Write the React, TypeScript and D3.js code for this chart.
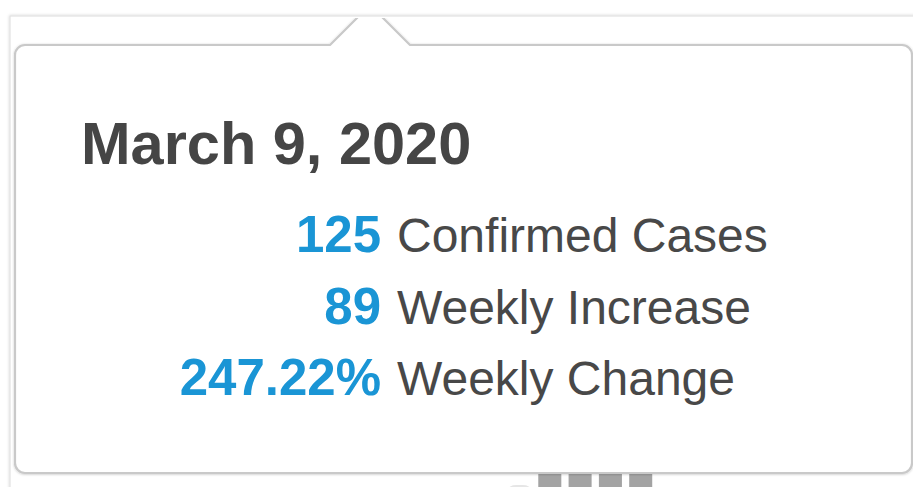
import React from "react";
import * as d3 from "d3";

const W = 913;
const H = 487;

// Tooltip content
const tooltipDate = "March 9, 2020";
const metricValues = ["125", "89", "247.22%"];
const metricLabels = ["Confirmed Cases", "Weekly Increase", "Weekly Change"];

// Bars peeking out beneath the tooltip
const barCategories = ["w1", "w2", "w3", "w4", "w5"];
const barValues = [10, 62, 78, 95, 120];
const barFills = ["#e6e6e6", "#a3a3a3", "#a3a3a3", "#a3a3a3", "#a3a3a3"];

export default function App() {
  const x = d3.scaleBand<string>().domain(barCategories).range([500.7, 659.5]).paddingInner(0.24).paddingOuter(0.24);
  const y = d3.scaleLinear().domain([0, 120]).range([495, 375]);

  // tooltip geometry
  const L = 15, T = 45, R = 912, B = 473, r = 10;
  const nL = 330, nR = 410, nX = 370, nY = 5;
  const p = d3.path();
  p.moveTo(L + r, T);
  p.lineTo(nL, T);
  p.lineTo(nX, nY);
  p.lineTo(nR, T);
  p.lineTo(R - r, T);
  p.arcTo(R, T, R, T + r, r);
  p.lineTo(R, B - r);
  p.arcTo(R, B, R - r, B, r);
  p.lineTo(L + r, B);
  p.arcTo(L, B, L, B - r, r);
  p.lineTo(L, T + r);
  p.arcTo(L, T, L + r, T, r);
  p.closePath();

  const rowY = d3.scaleLinear().domain([0, 2]).range([252, 395]);

  return (
    <div style={{ position: "fixed", left: 0, top: 0, width: W, height: H, background: "#fff" }}>
      <svg width={W} height={H} style={{ display: "block" }}>
        <defs>
          <filter id="panelShadow" x="-5%" y="-5%" width="110%" height="110%">
            <feDropShadow dx="0" dy="0" stdDeviation="1.6" floodColor="#000" floodOpacity="0.18" />
          </filter>
          <filter id="tipShadow" x="-5%" y="-10%" width="110%" height="120%">
            <feDropShadow dx="0" dy="0.5" stdDeviation="1.2" floodColor="#000" floodOpacity="0.22" />
          </filter>
          <clipPath id="panelClip">
            <rect x={10} y={18} width={W} height={H} />
          </clipPath>
        </defs>

        {/* background panel */}
        <rect x={10} y={16} width={W + 20} height={H + 20} fill="#fff" stroke="#e2e2e2" strokeWidth={1.2} filter="url(#panelShadow)" />

        {/* bars */}
        <g clipPath="url(#panelClip)">
          {barCategories.map((c, i) => (
            <rect
              key={c}
              x={x(c)}
              y={y(barValues[i])}
              width={x.bandwidth()}
              height={y(0) - y(barValues[i])}
              rx={i === 0 ? 8 : 0}
              fill={barFills[i]}
            />
          ))}
        </g>

        {/* tooltip */}
        <g clipPath="url(#panelClip)">
          <path d={p.toString()} fill="#fff" stroke="#c9c9c9" strokeWidth={2.2} strokeLinejoin="round" filter="url(#tipShadow)" />
        </g>

        <text x={81} y={164} fontFamily="'Liberation Sans', Arial, sans-serif" fontWeight="bold" fontSize={59.5} fill="#454545">
          {tooltipDate}
        </text>

        {metricValues.map((v, i) => (
          <g key={i}>
            <text x={381} y={rowY(i)} textAnchor="end" fontFamily="'Liberation Sans', Arial, sans-serif" fontWeight="bold" fontSize={51} fill="#1a95d5">
              {v}
            </text>
            <text x={397} y={rowY(i)} fontFamily="'Liberation Sans', Arial, sans-serif" fontSize={48} fill="#484848">
              {metricLabels[i]}
            </text>
          </g>
        ))}
      </svg>
    </div>
  );
}
